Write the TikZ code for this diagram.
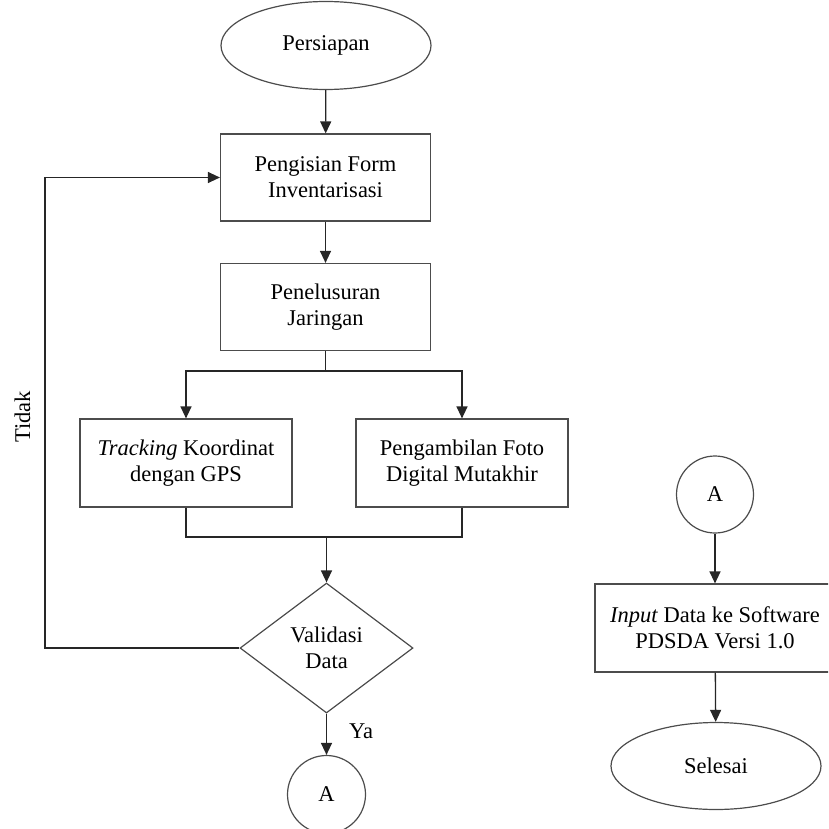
\documentclass[tikz,border=0pt]{standalone}
\usepackage{fontspec}
\setmainfont{Liberation Serif}
\usetikzlibrary{shapes.geometric,arrows.meta}
\begin{document}
\begin{tikzpicture}[x=1pt,y=-1pt,
  font=\fontsize{22.5}{26}\selectfont,
  boxline/.style={draw=black!70,line width=1.2pt},
  procbox/.style={boxline,rectangle,minimum width=210pt,minimum height=87pt,align=center,inner sep=2pt},
  termbox/.style={boxline,ellipse,minimum width=210pt,minimum height=88pt,inner sep=0pt},
  decbox/.style={boxline,diamond,minimum width=173pt,minimum height=130pt,inner sep=0pt,align=center},
  conbox/.style={boxline,circle,minimum size=78pt,inner sep=0pt},
  conn/.style={draw=black!85,line width=1.3pt},
  arr/.style={conn,-{Triangle[length=12pt,width=11pt]}}
]
\useasboundingbox (0,0) rectangle (828,829);
\clip (0,0) rectangle (828,829);

\node[termbox] (start) at (326,45.5) {Persiapan};
\node[procbox] (f1) at (325.5,177.5) {Pengisian Form\\Inventarisasi};
\node[procbox] (f2) at (325.5,307) {Penelusuran\\Jaringan};
\node[procbox,minimum width=212pt,minimum height=88pt] (t1) at (186,463) {\textit{Tracking} Koordinat\\dengan GPS};
\node[procbox,minimum width=212pt,minimum height=88pt] (t2) at (462,463) {Pengambilan Foto\\Digital Mutakhir};
\node[decbox] (dec) at (326.5,648) {Validasi\\Data};
\node[conbox] (a1) at (326.5,794.5) {A};

\node[conbox,minimum size=77pt] (a2) at (715,494.5) {A};
\node[procbox,minimum width=240pt,minimum height=88pt] (inp) at (715,628) {\textit{Input} Data ke Software\\PDSDA Versi 1.0};
\node[termbox,minimum height=87pt] (end) at (716,766) {Selesai};

\coordinate (br) at (325.5,371);
\coordinate (jn) at (326.5,537);
\coordinate (lp) at (45,177.5);

\draw[arr] (start) -- (f1);
\draw[arr] (f1) -- (f2);
\draw[conn] (f2) -- (br);
\draw[arr] (br) -| (t1);
\draw[arr] (br) -| (t2);
\draw[conn] (t1.south) |- (jn);
\draw[conn] (t2.south) |- (jn);
\draw[arr] (jn) -- (dec);
\draw[arr] (dec.west) -| (lp) -- (f1.west);
\draw[arr] (dec) -- (a1);
\draw[arr] (a2) -- (inp);
\draw[arr] (inp) -- (end);

\node[rotate=90,inner sep=0pt] (tidak) at (22.5,417) {Tidak};
\node[inner sep=0pt] (ya) at (361,731) {Ya};
\end{tikzpicture}
\end{document}
